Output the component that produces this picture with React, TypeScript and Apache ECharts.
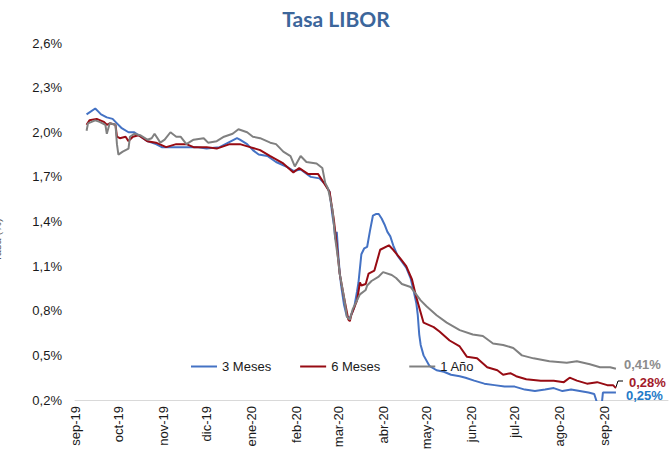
import React, { useEffect, useRef } from "react";
import * as echarts from "echarts";

const TITLE = "Tasa LIBOR";
const SERIES_NAMES = ["3 Meses", "6 Meses", "1 Año"];
const MONTHS_ES = ["ene", "feb", "mar", "abr", "may", "jun", "jul", "ago", "sep", "oct", "nov", "dic"];
const AXIS_START = "2019-09-01";
const AXIS_END = "2020-10-15";
const Y_MIN = 0.2;
const Y_MAX = 2.6;
const Y_STEP = 0.3;

const serie3M: [string, number][] = [
  ["2019-09-09", 2.12], ["2019-09-15", 2.16], ["2019-09-17", 2.14], ["2019-09-19", 2.12], ["2019-09-23", 2.10],
  ["2019-09-27", 2.09], ["2019-09-30", 2.06], ["2019-10-03", 2.03], ["2019-10-08", 2.00], ["2019-10-12", 2.00],
  ["2019-10-15", 1.98], ["2019-10-21", 1.94], ["2019-10-27", 1.92], ["2019-10-31", 1.90], ["2019-11-08", 1.90],
  ["2019-11-17", 1.90], ["2019-11-24", 1.90], ["2019-12-01", 1.89], ["2019-12-10", 1.90], ["2019-12-16", 1.93],
  ["2019-12-22", 1.96], ["2019-12-24", 1.95], ["2019-12-29", 1.92], ["2020-01-02", 1.88], ["2020-01-06", 1.85],
  ["2020-01-12", 1.84], ["2020-01-18", 1.80], ["2020-01-25", 1.77], ["2020-01-30", 1.74], ["2020-02-04", 1.75],
  ["2020-02-11", 1.70], ["2020-02-17", 1.69], ["2020-02-21", 1.65], ["2020-02-24", 1.60], ["2020-02-26", 1.44],
  ["2020-02-27", 1.38], ["2020-02-28", 1.28], ["2020-02-29", 1.33], ["2020-03-01", 1.18], ["2020-03-02", 1.06],
  ["2020-03-03", 0.97], ["2020-03-05", 0.84], ["2020-03-07", 0.76], ["2020-03-09", 0.75], ["2020-03-12", 0.82],
  ["2020-03-14", 0.93], ["2020-03-15", 0.99], ["2020-03-17", 1.18], ["2020-03-19", 1.22], ["2020-03-21", 1.23],
  ["2020-03-23", 1.34], ["2020-03-25", 1.44], ["2020-03-27", 1.45], ["2020-03-29", 1.45], ["2020-03-31", 1.42],
  ["2020-04-02", 1.38], ["2020-04-04", 1.33], ["2020-04-06", 1.30], ["2020-04-08", 1.24], ["2020-04-11", 1.17],
  ["2020-04-14", 1.13], ["2020-04-17", 1.09], ["2020-04-20", 1.02], ["2020-04-22", 0.94], ["2020-04-24", 0.85],
  ["2020-04-25", 0.77], ["2020-04-26", 0.64], ["2020-04-27", 0.57], ["2020-04-29", 0.50], ["2020-05-03", 0.43],
  ["2020-05-08", 0.40], ["2020-05-13", 0.39], ["2020-05-18", 0.37], ["2020-05-24", 0.36], ["2020-05-28", 0.35],
  ["2020-06-03", 0.33], ["2020-06-10", 0.31], ["2020-06-17", 0.30], ["2020-06-24", 0.29], ["2020-07-01", 0.29],
  ["2020-07-08", 0.27], ["2020-07-15", 0.26], ["2020-07-22", 0.27], ["2020-07-28", 0.28], ["2020-08-03", 0.26],
  ["2020-08-09", 0.27], ["2020-08-15", 0.26], ["2020-08-21", 0.25], ["2020-08-25", 0.24], ["2020-08-28", 0.15],
  ["2020-08-30", 0.15], ["2020-08-31", 0.25], ["2020-09-04", 0.25], ["2020-09-08", 0.25], ["2020-09-09", 0.25],
];

const serie6M: [string, number][] = [
  ["2019-09-09", 2.05], ["2019-09-11", 2.08], ["2019-09-16", 2.09], ["2019-09-21", 2.07], ["2019-09-23", 2.05],
  ["2019-09-25", 2.06], ["2019-09-29", 2.05], ["2019-09-30", 1.97], ["2019-10-02", 1.96], ["2019-10-06", 1.97],
  ["2019-10-08", 1.94], ["2019-10-11", 1.97], ["2019-10-15", 1.98], ["2019-10-21", 1.94], ["2019-10-27", 1.93],
  ["2019-11-03", 1.90], ["2019-11-10", 1.92], ["2019-11-17", 1.92], ["2019-11-22", 1.90], ["2019-12-01", 1.90],
  ["2019-12-08", 1.89], ["2019-12-17", 1.92], ["2019-12-24", 1.92], ["2019-12-31", 1.90], ["2020-01-07", 1.88],
  ["2020-01-14", 1.84], ["2020-01-23", 1.79], ["2020-01-30", 1.73], ["2020-02-03", 1.76], ["2020-02-09", 1.72],
  ["2020-02-16", 1.72], ["2020-02-20", 1.66], ["2020-02-24", 1.60], ["2020-02-27", 1.41], ["2020-02-29", 1.24],
  ["2020-03-02", 1.05], ["2020-03-05", 0.89], ["2020-03-08", 0.74], ["2020-03-09", 0.73], ["2020-03-10", 0.77],
  ["2020-03-14", 0.87], ["2020-03-16", 0.99], ["2020-03-17", 0.97], ["2020-03-20", 0.98], ["2020-03-22", 1.05],
  ["2020-03-26", 1.07], ["2020-03-30", 1.21], ["2020-04-05", 1.24], ["2020-04-08", 1.21], ["2020-04-13", 1.15],
  ["2020-04-17", 1.10], ["2020-04-21", 1.01], ["2020-04-24", 0.89], ["2020-04-29", 0.72], ["2020-05-06", 0.69],
  ["2020-05-10", 0.66], ["2020-05-17", 0.60], ["2020-05-24", 0.56], ["2020-05-29", 0.49], ["2020-06-05", 0.48],
  ["2020-06-12", 0.42], ["2020-06-19", 0.40], ["2020-06-23", 0.37], ["2020-06-28", 0.38], ["2020-07-02", 0.36],
  ["2020-07-09", 0.34], ["2020-07-19", 0.33], ["2020-07-28", 0.33], ["2020-08-04", 0.32], ["2020-08-08", 0.35],
  ["2020-08-13", 0.33], ["2020-08-20", 0.31], ["2020-08-27", 0.32], ["2020-09-03", 0.30], ["2020-09-07", 0.30],
  ["2020-09-09", 0.28],
];

const serie1A: [string, number][] = [
  ["2019-09-09", 2.01], ["2019-09-10", 2.06], ["2019-09-15", 2.08], ["2019-09-18", 2.07], ["2019-09-22", 2.05],
  ["2019-09-23", 1.99], ["2019-09-25", 2.06], ["2019-09-29", 2.05], ["2019-09-30", 1.92], ["2019-10-01", 1.85],
  ["2019-10-04", 1.87], ["2019-10-08", 1.89], ["2019-10-09", 1.97], ["2019-10-12", 1.99], ["2019-10-16", 1.98],
  ["2019-10-21", 1.95], ["2019-10-24", 1.96], ["2019-10-26", 1.99], ["2019-10-30", 1.93], ["2019-11-02", 1.95],
  ["2019-11-06", 2.00], ["2019-11-10", 1.97], ["2019-11-13", 1.97], ["2019-11-17", 1.92], ["2019-11-22", 1.95],
  ["2019-11-29", 1.96], ["2019-12-02", 1.93], ["2019-12-08", 1.94], ["2019-12-13", 1.97], ["2019-12-19", 1.99],
  ["2019-12-23", 2.02], ["2019-12-29", 2.00], ["2020-01-02", 1.97], ["2020-01-07", 1.96], ["2020-01-14", 1.93],
  ["2020-01-18", 1.92], ["2020-01-23", 1.87], ["2020-01-28", 1.84], ["2020-01-31", 1.77], ["2020-02-04", 1.84],
  ["2020-02-08", 1.80], ["2020-02-15", 1.79], ["2020-02-19", 1.76], ["2020-02-21", 1.66], ["2020-02-23", 1.62],
  ["2020-02-26", 1.48], ["2020-02-28", 1.28], ["2020-03-01", 1.14], ["2020-03-02", 1.05], ["2020-03-05", 0.89],
  ["2020-03-07", 0.76], ["2020-03-09", 0.74], ["2020-03-11", 0.81], ["2020-03-16", 0.91], ["2020-03-20", 0.94],
  ["2020-03-21", 0.97], ["2020-03-24", 1.00], ["2020-03-29", 1.03], ["2020-04-01", 1.06], ["2020-04-07", 1.04],
  ["2020-04-10", 1.02], ["2020-04-14", 0.98], ["2020-04-20", 0.96], ["2020-04-27", 0.87], ["2020-05-01", 0.83],
  ["2020-05-08", 0.77], ["2020-05-15", 0.72], ["2020-05-24", 0.67], ["2020-06-02", 0.64], ["2020-06-09", 0.63],
  ["2020-06-16", 0.58], ["2020-06-23", 0.57], ["2020-06-30", 0.55], ["2020-07-06", 0.50], ["2020-07-14", 0.48],
  ["2020-07-25", 0.46], ["2020-08-06", 0.45], ["2020-08-13", 0.46], ["2020-08-22", 0.44], ["2020-08-29", 0.42],
  ["2020-09-05", 0.42], ["2020-09-09", 0.41],
];

const LINE_COLORS = ["#4472C4", "#970B13", "#808080"];
const LABEL_COLORS = ["#1F7BC8", "#A31A2A", "#8C8C8C"];

function buildDays(start: string, end: string): string[] {
  const out: string[] = [];
  const d = new Date(start + "T00:00:00Z");
  const e = new Date(end + "T00:00:00Z");
  while (d.getTime() <= e.getTime()) {
    out.push(d.toISOString().slice(0, 10));
    d.setUTCDate(d.getUTCDate() + 1);
  }
  return out;
}

const FONT = "'Liberation Sans', Arial, sans-serif";
const fmtPct = (v: number) => v.toFixed(2).replace(".", ",") + "%";

export default function App() {
  const ref = useRef<HTMLDivElement>(null);
  useEffect(() => {
    document.body.style.margin = "0";
    if (!ref.current) return;
    const chart = echarts.init(ref.current, null, { renderer: "svg" });
    const days = buildDays(AXIS_START, AXIS_END);
    const all = [serie3M, serie6M, serie1A];
    const endOffsets: [number, number][] = [[10, 3], [13, -6], [8, -4]];
    chart.setOption({
      animation: false,
      backgroundColor: "#ffffff",
      title: {
        text: TITLE,
        left: 331,
        textAlign: "center",
        top: 3,
        textStyle: { color: "#3C669B", fontSize: 21, fontWeight: "bold", fontFamily: "Lato, 'Open Sans', sans-serif" },
      },
      legend: {
        data: SERIES_NAMES,
        left: 186,
        top: 355,
        icon: "rect",
        itemWidth: 26,
        itemHeight: 2,
        itemGap: 29,
        textStyle: { color: "#1a1a1a", fontSize: 13, fontFamily: FONT },
      },
      grid: { left: 75, right: 2, top: 43, bottom: 62, containLabel: false },
      xAxis: {
        type: "category",
        data: days,
        boundaryGap: false,
        axisLine: { show: true, lineStyle: { color: "#d9d9d9", width: 1 } },
        axisTick: { show: false },
        splitLine: { show: false },
        axisLabel: {
          interval: (_i: number, v: string) => v.slice(8, 10) === "01" && v <= "2020-09-01",
          rotate: 90,
          margin: 6,
          hideOverlap: false,
          color: "#1a1a1a",
          fontSize: 13,
          fontFamily: FONT,
          formatter: (v: string) => MONTHS_ES[parseInt(v.slice(5, 7), 10) - 1] + "-" + v.slice(2, 4),
        },
      },
      yAxis: {
        type: "value",
        min: Y_MIN,
        max: Y_MAX,
        interval: Y_STEP,
        axisLine: { show: false },
        axisTick: { show: false },
        splitLine: { show: false },
        axisLabel: {
          margin: 13,
          color: "#1a1a1a",
          fontSize: 13,
          fontFamily: FONT,
          formatter: (v: number) => v.toFixed(1).replace(".", ",") + "%",
        },
      },
      series: all.map((s, i) => ({
        name: SERIES_NAMES[i],
        type: "line",
        data: s,
        showSymbol: false,
        symbol: "none",
        smooth: false,
        clip: true,
        lineStyle: { color: LINE_COLORS[i], width: 2 },
        itemStyle: { color: LINE_COLORS[i] },
        endLabel: {
          show: true,
          formatter: (p: any) => fmtPct(p.value[1]),
          color: LABEL_COLORS[i],
          fontSize: 13,
          fontWeight: "bold",
          fontFamily: FONT,
          distance: 0,
          offset: endOffsets[i],
        },
      })),
      graphic: [
        {
          type: "text",
          x: 2,
          y: 240,
          rotation: Math.PI / 2,
          style: { text: "Tasa (%)", fontSize: 11, fill: "#595959", textAlign: "center", textVerticalAlign: "bottom", fontFamily: FONT },
        },
        {
          type: "polyline",
          shape: { points: [[616, 387], [618, 381], [623, 381]] },
          style: { stroke: "#000000", lineWidth: 1, fill: null },
        },
      ],
    });
    return () => chart.dispose();
  }, []);
  return <div ref={ref} style={{ width: 670, height: 462 }} />;
}
